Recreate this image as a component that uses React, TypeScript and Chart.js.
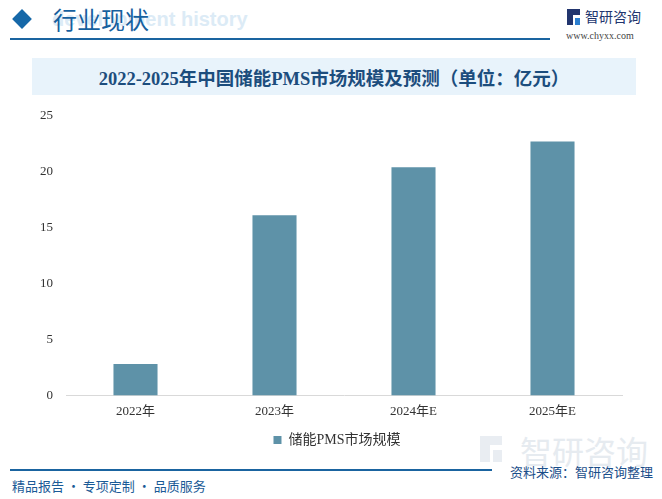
import React, { useEffect, useRef } from "react";
import { Chart, registerables } from "chart.js";

Chart.register(...registerables);

const categories = ["2022年", "2023年", "2024年E", "2025年E"];
const marketSize = [2.8, 16.1, 20.4, 22.7];
const seriesName = "储能PMS市场规模";
const yTicks = [0, 5, 10, 15, 20, 25];
const chartTitle = "2022-2025年中国储能PMS市场规模及预测（单位：亿元）";

const BAR_COLOR = "#5E92A8";
const FONT_SERIF = "'Liberation Serif', 'DejaVu Serif', 'Noto Sans CJK SC', serif";

const legendShift = {
  id: "legendShift",
  afterLayout(chart: any) {
    const lg = chart.legend;
    if (lg) {
      lg.left += 26;
      lg.right += 26;
    }
  },
};

export default function App() {
  const canvasRef = useRef<HTMLCanvasElement | null>(null);

  useEffect(() => {
    document.body.style.margin = "0";
    const canvas = canvasRef.current;
    if (!canvas) return;
    const chart = new Chart(canvas, {
      type: "bar",
      data: {
        labels: categories,
        datasets: [
          {
            label: seriesName,
            data: marketSize,
            backgroundColor: BAR_COLOR,
            categoryPercentage: 1,
            barPercentage: 0.317,
          },
        ],
      },
      plugins: [legendShift],
      options: {
        animation: false,
        responsive: false,
        maintainAspectRatio: false,
        layout: { padding: { left: 0, right: 40, top: 6, bottom: 0 } },
        plugins: {
          legend: {
            position: "bottom",
            labels: {
              boxWidth: 8,
              boxHeight: 8,
              color: "#333",
              font: { size: 14, family: FONT_SERIF },
              padding: 6,
            },
          },
          tooltip: { enabled: false },
        },
        scales: {
          x: {
            grid: { display: false, drawTicks: false },
            border: { display: true, color: "#d9d9d9", width: 1 },
            ticks: {
              color: "#333",
              font: { size: 13, family: FONT_SERIF },
              padding: 8,
            },
          },
          y: {
            min: 0,
            max: 25,
            grid: { display: false, drawTicks: false },
            border: { display: false },
            afterFit: (scale: any) => {
              scale.width = 66;
            },
            afterBuildTicks: (scale: any) => {
              scale.ticks = yTicks.map((v) => ({ value: v }));
            },
            ticks: {
              color: "#333",
              font: { size: 13, family: FONT_SERIF },
              padding: 13,
            },
          },
        },
      },
    });
    return () => chart.destroy();
  }, []);

  const abs = (s: React.CSSProperties): React.CSSProperties => ({ position: "absolute", ...s });

  return (
    <div
      style={{
        position: "relative",
        width: 662,
        height: 499,
        background: "#fff",
        overflow: "hidden",
        fontFamily: "'Noto Sans CJK SC', sans-serif",
      }}
    >
      {/* header watermark text */}
      <div
        style={abs({
          left: 52,
          top: 8,
          fontSize: 20,
          fontWeight: 700,
          color: "#DCEBF6",
          fontFamily: "'Liberation Sans', sans-serif",
          whiteSpace: "nowrap",
        })}
      >
        development history
      </div>
      {/* diamond */}
      <div
        style={abs({
          left: 15,
          top: 12,
          width: 14,
          height: 14,
          background: "#1668A8",
          transform: "rotate(45deg)",
        })}
      />
      <div
        style={abs({
          left: 53,
          top: 2,
          fontSize: 24,
          lineHeight: "34px",
          color: "#16609E",
          fontFamily: "'Noto Sans CJK SC', sans-serif",
        })}
      >
        行业现状
      </div>
      <div style={abs({ left: 10, top: 38, width: 540, height: 2, background: "#1A64A0" })} />
      {/* logo */}
      <div style={abs({ left: 567, top: 9, width: 6, height: 16, background: "#22356E" })} />
      <div style={abs({ left: 573, top: 9, width: 7, height: 6, background: "#22356E" })} />
      <div style={abs({ left: 575, top: 18, width: 5, height: 7, background: "#2C7FD0" })} />
      <div
        style={abs({
          left: 585,
          top: 6,
          fontSize: 14,
          lineHeight: "20px",
          color: "#22356E",
          whiteSpace: "nowrap",
        })}
      >
        智研咨询
      </div>
      <div
        style={abs({
          left: 566,
          top: 30,
          fontSize: 10,
          lineHeight: "12px",
          color: "#444",
          fontFamily: FONT_SERIF,
          whiteSpace: "nowrap",
        })}
      >
        www.chyxx.com
      </div>
      {/* title banner */}
      <div
        style={abs({
          left: 32,
          top: 58,
          width: 604,
          height: 37,
          background: "#E8F3FB",
          display: "flex",
          alignItems: "center",
          justifyContent: "center",
          fontSize: 18.5,
          fontWeight: 700,
          color: "#1C4D7D",
          fontFamily: FONT_SERIF,
          whiteSpace: "nowrap",
        })}
      >
        {chartTitle}
      </div>
      {/* bottom-right watermark logo */}
      <div style={abs({ left: 480, top: 436, width: 10, height: 26, background: "#E9EDF2" })} />
      <div style={abs({ left: 490, top: 436, width: 12, height: 9, background: "#E9EDF2" })} />
      <div style={abs({ left: 493, top: 450, width: 9, height: 12, background: "#E9EDF2" })} />
      <div
        style={abs({
          left: 520,
          top: 430,
          fontSize: 32,
          lineHeight: "40px",
          color: "#E6EBF0",
          whiteSpace: "nowrap",
        })}
      >
        智研咨询
      </div>
      <canvas
        ref={canvasRef}
        width={662}
        height={362}
        style={abs({ left: 0, top: 95, width: 662, height: 362 })}
      />
      <div style={abs({ left: 10, top: 469, width: 482, height: 2, background: "#1A64A0" })} />
      <div
        style={abs({
          left: 510,
          top: 463,
          fontSize: 13,
          lineHeight: "18px",
          color: "#1A4E8A",
          whiteSpace: "nowrap",
        })}
      >
        资料来源：智研咨询整理
      </div>
      <div
        style={abs({
          left: 12,
          top: 477,
          fontSize: 13,
          lineHeight: "18px",
          color: "#1A5A96",
          whiteSpace: "nowrap",
        })}
      >
        精品报告 · 专项定制 · 品质服务
      </div>
    </div>
  );
}
